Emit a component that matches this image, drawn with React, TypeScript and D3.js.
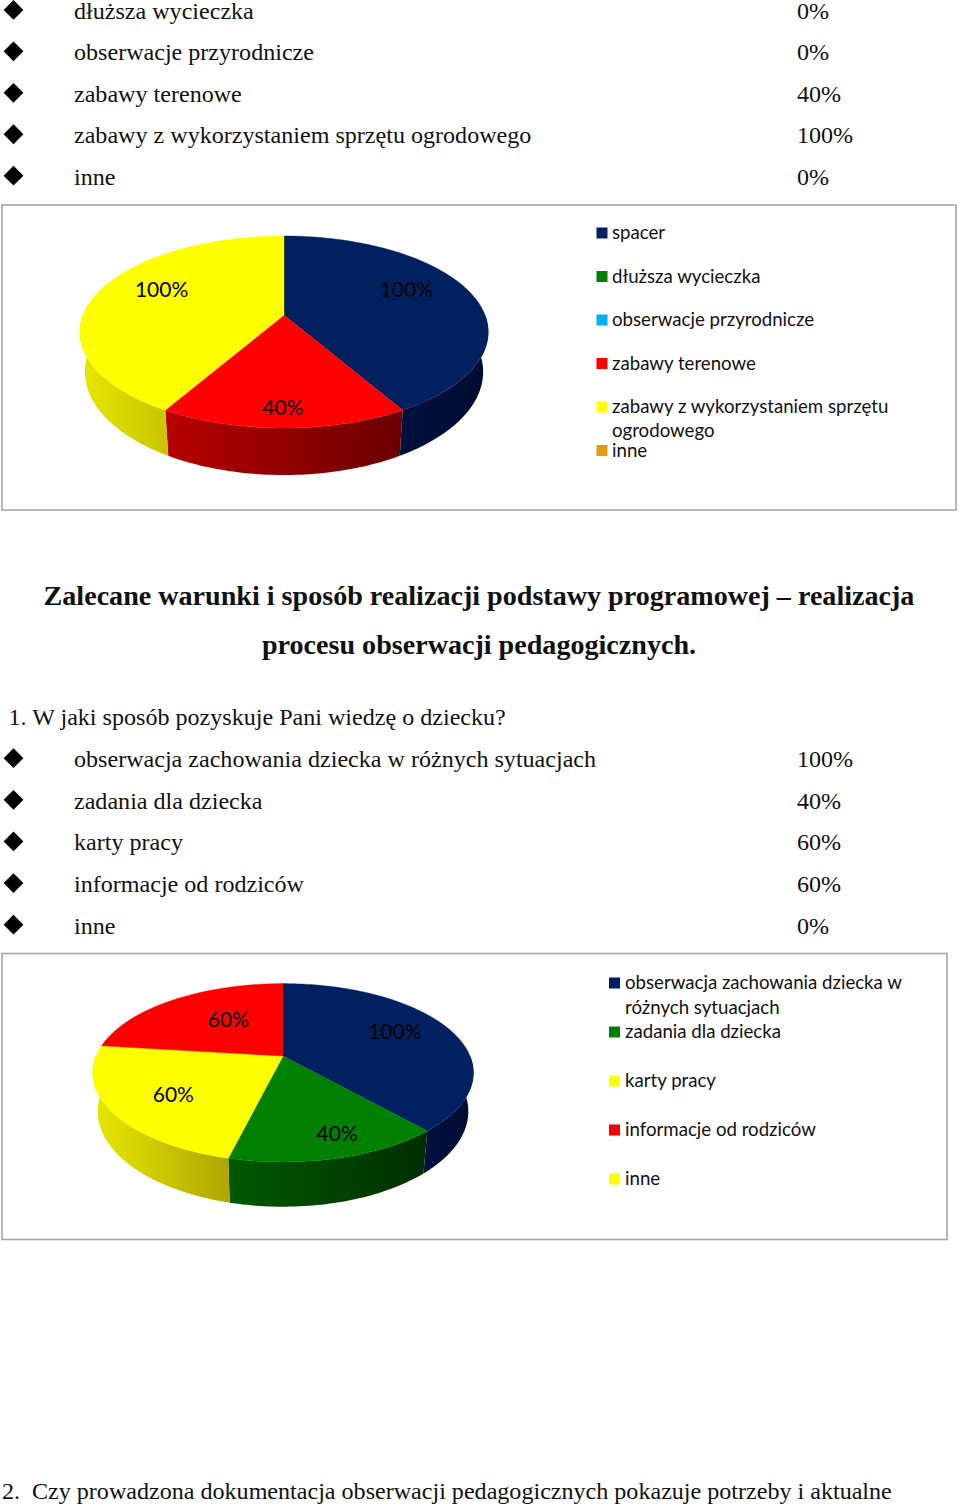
import React from "react";
import * as d3 from "d3";

const listOneLabels = ["dłuższa wycieczka", "obserwacje przyrodnicze", "zabawy terenowe", "zabawy z wykorzystaniem sprzętu ogrodowego", "inne"];
const listOneValues = ["0%", "0%", "40%", "100%", "0%"];
const listTwoLabels = ["obserwacja zachowania dziecka w różnych sytuacjach", "zadania dla dziecka", "karty pracy", "informacje od rodziców", "inne"];
const listTwoValues = ["100%", "40%", "60%", "60%", "0%"];

const pieOneCategories = ["spacer", "dłuższa wycieczka", "obserwacje przyrodnicze", "zabawy terenowe", "zabawy z wykorzystaniem sprzętu ogrodowego", "inne"];
const pieOneValues = [100, 0, 0, 40, 100, 0];
const pieOneColors = ["#002060", "#008000", "#00b0f0", "#ff0000", "#ffff00", "#e39c10"];
const pieOneSides = [["#00103e", "#000c30"], ["#005000", "#003000"], ["#007090", "#005070"], ["#b80000", "#6a0000"], ["#e8e800", "#c8c400"], ["#a07000", "#805000"]];

const pieTwoCategories = ["obserwacja zachowania dziecka w różnych sytuacjach", "zadania dla dziecka", "karty pracy", "informacje od rodziców", "inne"];
const pieTwoValues = [100, 40, 60, 60, 0];
const pieTwoColors = ["#002060", "#008000", "#ffff00", "#ff0000", "#ffff00"];
const pieTwoSides = [["#00103e", "#000c34"], ["#005a00", "#002e00"], ["#e8e800", "#aea600"], ["#b80000", "#6a0000"], ["#e8e800", "#c8c400"]];

const SERIF = "'Liberation Serif', serif";
const SANS = "Lato, sans-serif";
const INK = "#111";

type Geo = { id: string; cx: number; ay: number; a: number; b: number; c: number; a2: number; b2: number; off: number };
const geoOne: Geo = { id: "p1", cx: 284, ay: 315, a: 93, b: 201, c: -0.177, a2: 100, b2: 196, off: 38.5 };
const geoTwo: Geo = { id: "p2", cx: 283, ay: 1056, a: 86, b: 187, c: -0.188, a2: 92, b2: 182, off: 37.4 };

function top(g: Geo, ang: number, r = 1): [number, number] {
  const u = r * Math.sin(ang), v = -r * Math.cos(ang), k = 1 + g.c * v;
  return [g.cx + (g.b * u) / k, g.ay + (g.a * v) / k];
}
function bottom(g: Geo, ang: number): [number, number] {
  const u = Math.sin(ang), v = -Math.cos(ang), k = 1 + g.c * v;
  return [g.cx + (g.b2 * u) / k, g.ay + g.off + (g.a2 * v) / k];
}
const sample = (a0: number, a1: number) => {
  const n = Math.max(2, Math.ceil(Math.abs(a1 - a0) / 0.02));
  return d3.range(n + 1).map((i) => a0 + ((a1 - a0) * i) / n);
};
const line = d3.line<[number, number]>();

function Pie3D({ g, values, colors, sides, labelShift }: { g: Geo; values: number[]; colors: string[]; sides: string[][]; labelShift: [number, number][] }) {
  const arcs = d3.pie<number>().sort(null)(values);
  const lo = Math.PI / 2, hi = (3 * Math.PI) / 2;
  return (
    <g>
      {arcs.map((d, i) => {
        const a0 = Math.max(d.startAngle, lo), a1 = Math.min(d.endAngle, hi);
        if (d.value === 0 || a1 <= a0) return null;
        const angs = sample(a0, a1);
        const t = angs.map((x) => top(g, x));
        const b = angs.map((x) => bottom(g, x)).reverse();
        const pts = [...t, ...b];
        const [x0, x1] = d3.extent(pts, (p) => p[0]) as [number, number];
        const gid = `${g.id}-s${i}`;
        return (
          <g key={gid}>
            <defs>
              <linearGradient id={gid} gradientUnits="userSpaceOnUse" x1={x0} x2={x1} y1={0} y2={0}>
                <stop offset="0" stopColor={sides[i][0]} />
                <stop offset="1" stopColor={sides[i][1]} />
              </linearGradient>
            </defs>
            <path d={line(pts) + "Z"} fill={`url(#${gid})`} />
          </g>
        );
      })}
      {arcs.map((d, i) => {
        if (d.value === 0) return null;
        const pts: [number, number][] = [[g.cx, g.ay], ...sample(d.startAngle, d.endAngle).map((x) => top(g, x))];
        return <path key={i} d={line(pts) + "Z"} fill={colors[i]} stroke={colors[i]} strokeWidth={0.4} />;
      })}
      {arcs.map((d, i) => {
        if (d.value === 0) return null;
        const [x, y] = top(g, (d.startAngle + d.endAngle) / 2, 0.6);
        const s = labelShift[i];
        return (
          <text key={i} x={x + s[0]} y={y + s[1]} textAnchor="middle" fontFamily={SANS} fontSize={21} fill="#000">
            {d.value}%
          </text>
        );
      })}
    </g>
  );
}

function BulletList({ labels, values, firstBaseline, span }: { labels: string[]; values: string[]; firstBaseline: number; span: number }) {
  const y = d3.scaleLinear().domain([0, 4]).range([firstBaseline, firstBaseline + span]);
  return (
    <g fontFamily={SERIF} fontSize={24.08} fill={INK}>
      {labels.map((l, i) => (
        <g key={i}>
          <path d={d3.symbol(d3.symbolDiamond2, 250)() as string} transform={`translate(13.5,${y(i) - 8.8})`} fill="#000" />
          <text x={74} y={y(i)}>{l}</text>
          <text x={797} y={y(i)}>{values[i]}</text>
        </g>
      ))}
    </g>
  );
}

export default function App() {
  const l1 = [
    { c: pieOneColors[0], t: pieOneCategories[0], y: 233 },
    { c: pieOneColors[1], t: pieOneCategories[1], y: 276.5 },
    { c: pieOneColors[2], t: pieOneCategories[2], y: 320 },
    { c: pieOneColors[3], t: pieOneCategories[3], y: 363.5 },
    { c: pieOneColors[4], t: "zabawy z wykorzystaniem sprzętu", y: 407, t2: "ogrodowego", dy2: 24 },
    { c: pieOneColors[5], t: pieOneCategories[5], y: 450.5 },
  ];
  const l2 = [
    { c: pieTwoColors[0], t: "obserwacja zachowania dziecka w", y: 983, t2: "różnych sytuacjach", dy2: 24.5 },
    { c: pieTwoColors[1], t: pieTwoCategories[1], y: 1032 },
    { c: pieTwoColors[2], t: pieTwoCategories[2], y: 1081 },
    { c: pieTwoColors[3], t: pieTwoCategories[3], y: 1130 },
    { c: pieTwoColors[4], t: pieTwoCategories[4], y: 1179 },
  ];
  const legend = (rows: any[], sx: number, tx: number) =>
    rows.map((r, i) => (
      <g key={i}>
        <rect x={sx} y={r.y - 5.5} width={11} height={11} fill={r.c} />
        <text x={tx} y={r.y + 6} fontFamily={SANS} fontSize={18.65} fill={INK}>{r.t}</text>
        {r.t2 && <text x={tx} y={r.y + 6 + r.dy2} fontFamily={SANS} fontSize={18.65} fill={INK}>{r.t2}</text>}
      </g>
    ));
  return (
    <svg width={960} height={1507} style={{ position: "absolute", left: 0, top: 0, display: "block", background: "#fff" }}>
      <BulletList labels={listOneLabels} values={listOneValues} firstBaseline={18.7} span={165.8} />
      <rect x={2} y={205} width={954} height={305} fill="#fff" stroke="#a6a6a6" strokeWidth={1.6} />
      <Pie3D g={geoOne} values={pieOneValues} colors={pieOneColors} sides={pieOneSides}
        labelShift={[[9, -4], [0, 0], [0, 0], [-1, 37.5], [-9, -4], [0, 0]]} />
      {legend(l1, 596.5, 612)}

      <g fontFamily={SERIF} fontWeight="bold" fontSize={28.1} fill={INK} textAnchor="middle">
        <text x={479} y={605}>Zalecane warunki i sposób realizacji podstawy programowej – realizacja</text>
        <text x={479} y={654}>procesu obserwacji pedagogicznych.</text>
      </g>
      <text x={8.5} y={725} fontFamily={SERIF} fontSize={24.08} fill={INK}>1. W jaki sposób pozyskuje Pani wiedzę o dziecku?</text>
      <BulletList labels={listTwoLabels} values={listTwoValues} firstBaseline={767} span={166.5} />
      <rect x={2} y={953.5} width={945} height={286} fill="#fff" stroke="#a6a6a6" strokeWidth={1.6} />
      <Pie3D g={geoTwo} values={pieTwoValues} colors={pieTwoColors} sides={pieTwoSides}
        labelShift={[[11, 1], [24, 29], [-11, 15], [14, 7], [0, 0]]} />
      {legend(l2, 609, 625)}
      <text x={2} y={1499} fontFamily={SERIF} fontSize={24.08} fill={INK}>2.</text>
      <text x={32} y={1499} fontFamily={SERIF} fontSize={24.08} fill={INK}>Czy prowadzona dokumentacja obserwacji pedagogicznych pokazuje potrzeby i aktualne</text>
    </svg>
  );
}
